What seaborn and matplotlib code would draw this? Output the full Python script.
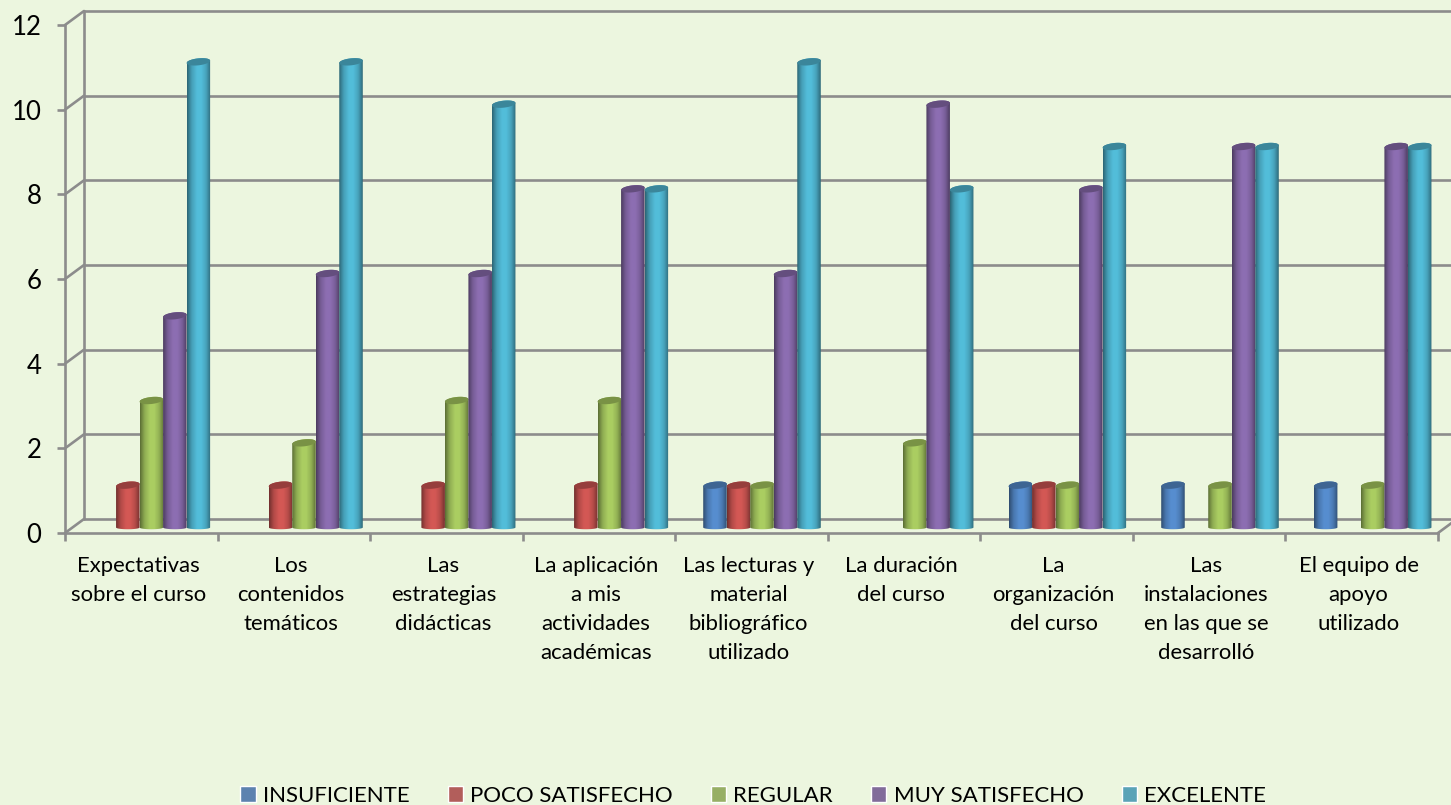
import numpy as np
import pandas as pd
import matplotlib
matplotlib.use("Agg")
import matplotlib.pyplot as plt
import seaborn as sns
from matplotlib.path import Path
from matplotlib.patches import PathPatch, Polygon
from matplotlib.transforms import ScaledTranslation
from matplotlib.colors import to_rgb

categories = ["Expectativas\nsobre el curso", "Los\ncontenidos\ntemáticos", "Las\nestrategias\ndidácticas",
              "La aplicación\na mis\nactividades\nacadémicas", "Las lecturas y\nmaterial\nbibliográfico\nutilizado",
              "La duración\ndel curso", "La\norganización\ndel curso", "Las\ninstalaciones\nen las que se\ndesarrolló",
              "El equipo de\napoyo\nutilizado"]
insuficiente = [0, 0, 0, 0, 1, 0, 1, 1, 1]
poco = [1, 1, 1, 1, 1, 0, 1, 0, 0]
regular = [3, 2, 3, 3, 1, 2, 1, 1, 1]
muy = [5, 6, 6, 8, 6, 10, 8, 9, 9]
excelente = [11, 11, 10, 8, 11, 8, 9, 9, 9]
series_names = ["INSUFICIENTE", "POCO SATISFECHO", "REGULAR", "MUY SATISFECHO", "EXCELENTE"]
series_values = [insuficiente, poco, regular, muy, excelente]
colors = ["#4F81BD", "#C0504D", "#9BBB59", "#8064A2", "#4BACC6"]
y_ticks = [0, 2, 4, 6, 8, 10, 12]

BG = "#ECF6DF"
GRID = "#8C8C8C"
W, H = 1451, 805
DPI = 100

sns.set_theme(style="white")
plt.rcParams["font.family"] = ["Lato", "DejaVu Sans"]

df = pd.DataFrame([
    {"cat": c, "serie": s, "valor": v}
    for s, vals in zip(series_names, series_values)
    for c, v in zip(categories, vals)
])

fig = plt.figure(figsize=(W / DPI, H / DPI), dpi=DPI, facecolor=BG)


def box(x0, x1, ytop, ybot):
    return [x0 / W, 1 - ybot / H, (x1 - x0) / W, (ybot - ytop) / H]


# Frame axes: front floor edge and value axis, with the back wall offset from it
fr = fig.add_axes(box(65, 1438, 25, 533), facecolor="none")
fr.set_xlim(0, 9)
fr.set_ylim(0, 12)
off = ScaledTranslation(19 / DPI, 14 / DPI, fig.dpi_scale_trans)
wall = fr.transData + off
lw = 1.9
for v in y_ticks:
    fr.plot([0, 9.2], [v, v], color=GRID, lw=lw, transform=wall, clip_on=False, zorder=1)
    a = fr.transData.transform((0, v))
    b = wall.transform((0, v))
    fr.plot([a[0], b[0]], [a[1], b[1]], color=GRID, lw=lw, transform=None, clip_on=False, zorder=1)
fr.plot([0, 0], [0, 12], color=GRID, lw=lw, transform=wall, clip_on=False, zorder=1)
a = fr.transData.transform((9, 0))
b = wall.transform((9, 0))
fr.plot([a[0], b[0]], [a[1], b[1]], color=GRID, lw=lw, transform=None, clip_on=False, zorder=1)

for s in ["top", "right"]:
    fr.spines[s].set_visible(False)
for s in ["left", "bottom"]:
    fr.spines[s].set_color(GRID)
    fr.spines[s].set_linewidth(lw)
fr.set_yticks(y_ticks)
fr.set_yticklabels([str(v) for v in y_ticks], fontsize=18.5, color="black")
fr.tick_params(axis="y", length=6, width=lw, color=GRID, pad=11, left=True)
fr.set_xticks(np.arange(0, 10))
fr.set_xticklabels([])
fr.tick_params(axis="x", which="major", length=6, width=lw, color=GRID, bottom=True)
fr.set_xticks(np.arange(9) + 0.48, minor=True)
fr.set_xticklabels(categories, minor=True, fontsize=15.9, color="black", linespacing=1.565)
fr.tick_params(axis="x", which="minor", length=0, pad=16.5, bottom=False)

# Bars axes: the cylinders stand on the floor between front edge and back wall
px_y = 12 / (533 - 25)  # data units per pixel
base_px = 527.5
below = 0.25
ax = fig.add_axes(box(75, 1449, base_px - 12 / px_y, base_px + below / px_y), facecolor="none")
sns.barplot(data=df, x="cat", y="valor", hue="serie", hue_order=series_names, order=categories,
            palette=colors, width=0.77, gap=0, dodge=True, errorbar=None, ax=ax, legend=True)
handles, labels = ax.get_legend_handles_labels()
ax.get_legend().remove()

cap_h = 7.0 * px_y
foot_h = 3.5 * px_y
tilt = 1.2 * px_y
profile_x = np.array([0, 0.07, 0.2, 0.42, 0.6, 0.8, 0.93, 1])
profile_v = np.array([0.58, 0.72, 0.93, 1.10, 1.10, 0.95, 0.74, 0.6])
t = np.linspace(0, 1, 64)
shade = np.interp(t, profile_x, profile_v)
angles = np.linspace(0, 2 * np.pi, 60)

zo = 3
for container, col in zip(ax.containers, colors):
    base = np.array(to_rgb(col))
    grad = np.clip(base[None, :] * shade[:, None], 0, 1)[None, :, :]
    for rect in container:
        h = rect.get_height()
        x0 = rect.get_x()
        w = rect.get_width()
        rect.set_visible(False)
        if not h or h <= 0:
            continue
        cx = x0 + w / 2
        # body outline: straight sides, rounded bottom and top
        low = np.linspace(np.pi, 2 * np.pi, 24)
        high = np.linspace(0, np.pi, 24)
        lower = np.c_[cx + w / 2 * np.cos(low), foot_h / 2 * np.sin(low)]
        upper = np.c_[cx + w / 2 * np.cos(high), h + cap_h / 2 * np.sin(high) + tilt * np.cos(high)]
        verts = np.r_[lower, upper, lower[:1]]
        clip = PathPatch(Path(verts, closed=True), transform=ax.transData, facecolor="none", edgecolor="none")
        ax.add_patch(clip)
        im = ax.imshow(grad, extent=(x0, x0 + w, -cap_h, h + cap_h), aspect="auto", zorder=zo,
                       interpolation="bilinear")
        im.set_clip_path(clip)
        cap = np.c_[cx + w / 2 * np.cos(angles), h + cap_h / 2 * np.sin(angles) + tilt * np.cos(angles)]
        ax.add_patch(Polygon(cap, closed=True, facecolor=base * 0.78, edgecolor="none", zorder=zo + 0.5,
                             clip_on=False))
        zo += 1

ax.set_xlim(-0.5, 8.5)
ax.set_ylim(-below, 12)
ax.set_axis_off()

leg = fig.legend(handles, labels, ncol=5, frameon=False, fontsize=16.0, loc="lower left",
                 bbox_to_anchor=(236 / W, -5 / H), handlelength=0.68, handleheight=0.73,
                 handletextpad=0.33, columnspacing=1.72, borderaxespad=0, borderpad=0.2)
for txt in leg.get_texts():
    txt.set_color("black")

fig.savefig("out.png", dpi=DPI, facecolor=BG)
